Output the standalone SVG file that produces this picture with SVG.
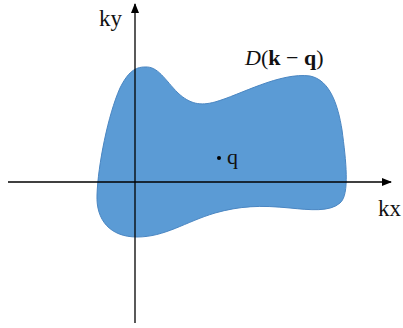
<svg xmlns="http://www.w3.org/2000/svg" width="403" height="328" viewBox="0 0 403 328">
<style>
.t{font-family:"Liberation Serif","DejaVu Serif",serif;fill:#111;}
.ax{stroke:#000;stroke-width:1.3;fill:none;}
</style>
<defs>
<marker id="ah" markerWidth="10" markerHeight="8" refX="9" refY="4" orient="auto" markerUnits="userSpaceOnUse">
<path d="M0,0 L10,4 L0,8 Z" fill="#000"/>
</marker>
</defs>
<rect width="403" height="328" fill="#fff"/>
<g id="region">
<path d="M145,67 C158,66 165,80 178,93 C190,104 200,106 215,102 C240,95 280,72 310,76 C330,80 338,105 342,130 C346,160 350,195 340,203 C330,212 310,210 290,208 C260,205 240,206 215,213 C185,222 165,237 137,237 C110,237 96,220 97,195 C98,165 108,115 120,88 C128,72 135,67 145,67 Z" fill="#5b9bd5" stroke="#4a86c2" stroke-width="1"/>
</g>
<g id="connectors">
<line class="ax" x1="8" y1="182" x2="391" y2="182" marker-end="url(#ah)"/>
<line class="ax" x1="135" y1="323" x2="135" y2="4" marker-end="url(#ah)"/>
</g>
<g id="point">
<circle cx="219" cy="158" r="2" fill="#000"/>
<text class="t" x="227" y="164" font-size="22">q</text>
</g>
<g id="labels">
<text class="t" x="99" y="26" font-size="23">ky</text>
<text class="t" x="378" y="216" font-size="23">kx</text>
<text class="t" x="245" y="65" font-size="22"><tspan font-style="italic">D</tspan>(<tspan font-weight="bold">k</tspan> − <tspan font-weight="bold">q</tspan>)</text>
</g>
</svg>
